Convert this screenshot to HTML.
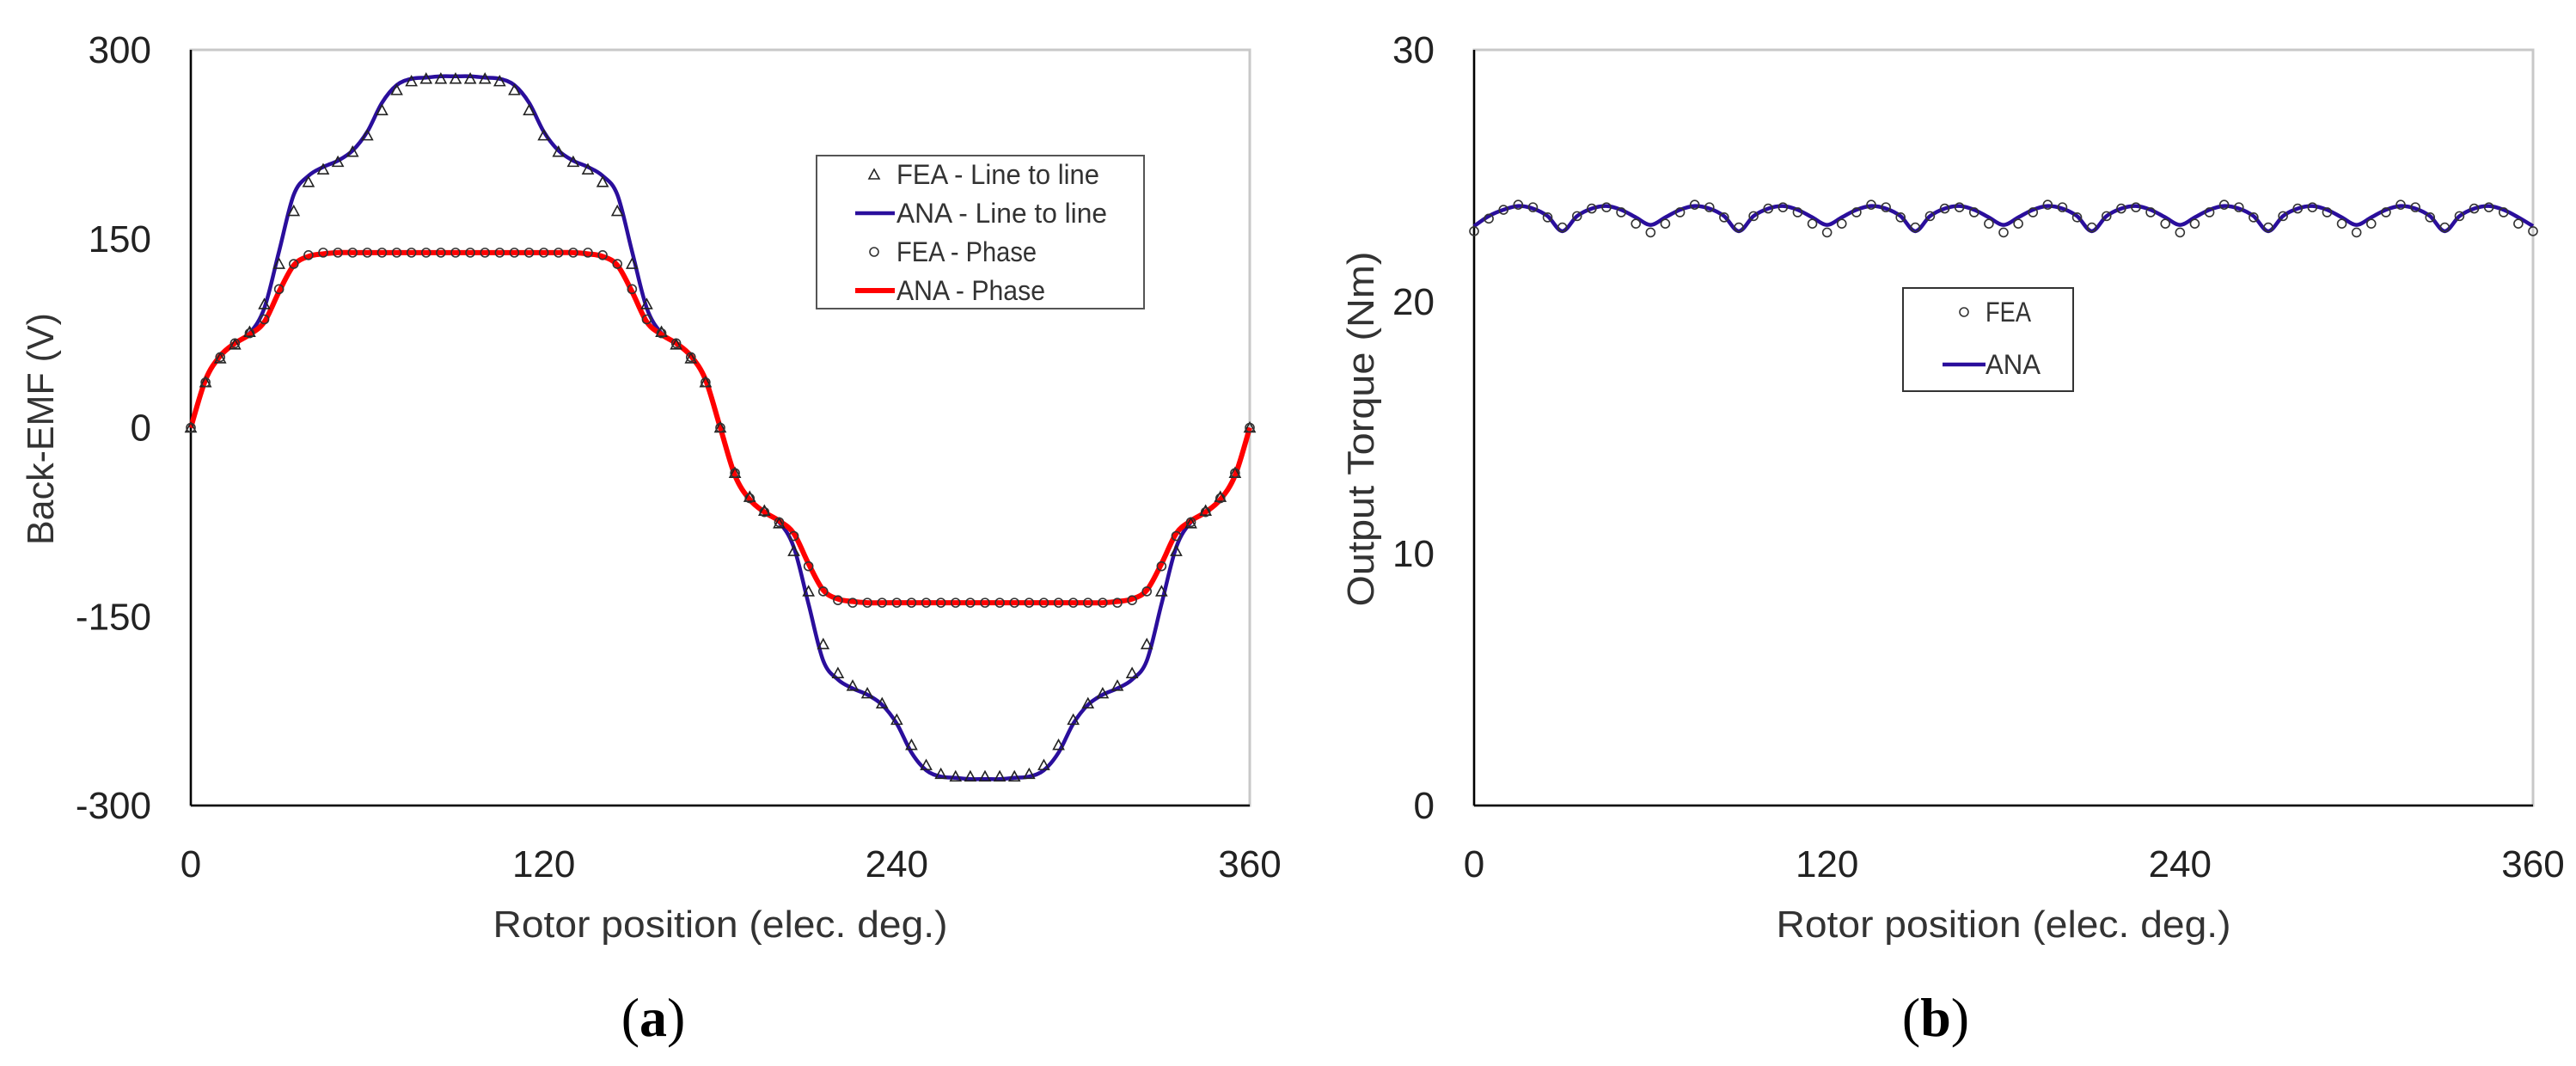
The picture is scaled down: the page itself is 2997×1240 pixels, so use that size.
<!DOCTYPE html>
<html><head><meta charset="utf-8"><style>
html,body{margin:0;padding:0;background:#fff;}
svg{display:block;font-family:"Liberation Sans",sans-serif;}
</style></head><body>
<svg id="fig" width="2997" height="1240" viewBox="0 0 2997 1240" xmlns="http://www.w3.org/2000/svg"></svg>
<script>
const xDeg = [0,5,10,15,20,25,30,35,40,45,50,55,60,65,70,75,80,85,90,95,100,105,110,115,120,125,130,135,140,145,150,155,160,165,170,175,180,185,190,195,200,205,210,215,220,225,230,235,240,245,250,255,260,265,270,275,280,285,290,295,300,305,310,315,320,325,330,335,340,345,350,355,360];
const phaseANA = [0,38,57,67,74,84,108,129,136,138,139,139,139,139,139,139,139,139,139,139,139,139,139,139,139,139,139,138,136,129,108,84,74,67,57,38,0,-38,-57,-67,-74,-84,-108,-129,-136,-138,-139,-139,-139,-139,-139,-139,-139,-139,-139,-139,-139,-139,-139,-139,-139,-139,-139,-138,-136,-129,-108,-84,-74,-67,-57,-38,0];
const phaseFEA = [0,36,56,67,75,86,110,130,137,139,139,139,139,139,139,139,139,139,139,139,139,139,139,139,139,139,139,139,137,130,110,86,75,67,56,36,0,-36,-56,-67,-75,-86,-110,-130,-137,-139,-139,-139,-139,-139,-139,-139,-139,-139,-139,-139,-139,-139,-139,-139,-139,-139,-139,-139,-137,-130,-110,-86,-75,-67,-56,-36,0];
const llANA = [0,38,57,67,75,95,140,185,200,207,212,220,235,258,272,277,278,279,279,279,278,277,272,258,235,220,212,207,200,185,140,95,75,67,57,38,0,-38,-57,-67,-75,-95,-140,-185,-200,-207,-212,-220,-235,-258,-272,-277,-278,-279,-279,-279,-278,-277,-272,-258,-235,-220,-212,-207,-200,-185,-140,-95,-75,-67,-57,-38,0];
const llFEA = [0,36,55,66,76,98,130,172,195,205,211,219,232,252,268,275,277,277,277,277,277,275,268,252,232,219,211,205,195,172,130,98,76,66,55,36,0,-36,-55,-66,-76,-98,-130,-172,-195,-205,-211,-219,-232,-252,-268,-275,-277,-277,-277,-277,-277,-275,-268,-252,-232,-219,-211,-205,-195,-172,-130,-98,-76,-66,-55,-36,0];
const torqueANA = [23.0,23.4,23.65,23.8,23.7,23.4,22.8,23.4,23.7,23.8,23.65,23.35,23.05,23.35,23.65,23.8,23.7,23.4,22.8,23.4,23.7,23.8,23.65,23.35,23.05,23.35,23.65,23.8,23.7,23.4,22.8,23.4,23.7,23.8,23.65,23.35,23.05,23.35,23.65,23.8,23.7,23.4,22.8,23.4,23.7,23.8,23.65,23.35,23.05,23.35,23.65,23.8,23.7,23.4,22.8,23.4,23.7,23.8,23.65,23.35,23.05,23.35,23.65,23.8,23.7,23.4,22.8,23.4,23.7,23.8,23.65,23.35,23.0];
const torqueFEA = [22.8,23.3,23.65,23.85,23.75,23.35,22.95,23.4,23.7,23.75,23.55,23.1,22.75,23.1,23.55,23.85,23.75,23.35,22.95,23.4,23.7,23.75,23.55,23.1,22.75,23.1,23.55,23.85,23.75,23.35,22.95,23.4,23.7,23.75,23.55,23.1,22.75,23.1,23.55,23.85,23.75,23.35,22.95,23.4,23.7,23.75,23.55,23.1,22.75,23.1,23.55,23.85,23.75,23.35,22.95,23.4,23.7,23.75,23.55,23.1,22.75,23.1,23.55,23.85,23.75,23.35,22.95,23.4,23.7,23.75,23.55,23.1,22.8];
const xTicks = [0,120,240,360];
const emfTicks = [300,150,0,-150,-300];
const torqueTicks = [0,10,20,30];

const NS = "http://www.w3.org/2000/svg";
const svg = document.getElementById('fig');
function mk(tag, attrs, parent){const e=document.createElementNS(NS,tag);for(const k in attrs)e.setAttribute(k,attrs[k]);(parent||svg).appendChild(e);return e;}
function smooth(pts){let d=`M${pts[0][0]},${pts[0][1]}`;for(let i=0;i<pts.length-1;i++){const p0=pts[Math.max(i-1,0)],p1=pts[i],p2=pts[i+1],p3=pts[Math.min(i+2,pts.length-1)];const c1x=p1[0]+(p2[0]-p0[0])/6,c1y=p1[1]+(p2[1]-p0[1])/6,c2x=p2[0]-(p3[0]-p1[0])/6,c2y=p2[1]-(p3[1]-p1[1])/6;d+=` C${c1x},${c1y} ${c2x},${c2y} ${p2[0]},${p2[1]}`;}return d;}

function panel(cfg){
  const g=mk('g',{});
  
  
  const L=cfg.left,R=cfg.left+1232,T=58,B=937;
  const sx=v=>L+(v-0)/360*(R-L);
  const sy=v=>B-(v-cfg.ymin)/(cfg.ymax-cfg.ymin)*(B-T);
  const frame=mk('rect',{x:L,y:T,width:R-L,height:B-T,fill:'none',stroke:'#c8c8c8','stroke-width':3},g);
  
  
  const ya=mk('line',{x1:L,y1:T,x2:L,y2:B,stroke:'#000','stroke-width':2.5},g);
  
  
  const xa=mk('line',{x1:L,y1:B,x2:R,y2:B,stroke:'#000','stroke-width':2.5},g);
  
  
  cfg.yticks.forEach(v=>{const t=mk('text',{x:L-46,y:sy(v)+15,'text-anchor':'end','font-size':44,fill:'#222'},g);t.textContent=v;
    
    });
  xTicks.forEach(v=>{const t=mk('text',{x:sx(v),y:1020,'text-anchor':'middle','font-size':44,fill:'#222'},g);t.textContent=v;
    
    });
  const xt=mk('text',{x:(L+R)/2,y:1090,'text-anchor':'middle','font-size':44,fill:'#333',textLength:529,lengthAdjust:'spacingAndGlyphs'},g);
  xt.textContent='Rotor position (elec. deg.)';
  
  
  const yt=mk('text',{x:0,y:0,'text-anchor':'middle','font-size':44,fill:'#333',textLength:cfg.ytLen,lengthAdjust:'spacingAndGlyphs',transform:`translate(${cfg.ytX},499) rotate(-90)`},g);
  yt.textContent=cfg.ytitle;
  
  
  const cap=mk('text',{x:cfg.capX,y:1205,'text-anchor':'middle','font-size':64,'font-family':'Liberation Serif, serif',fill:'#000'},g);
  cap.innerHTML='(<tspan font-weight="bold">'+cfg.cap+'</tspan>)';
  
  
  return {g,sx,sy};
}

// Panel (a)
const A=panel({name:'back-emf-chart',left:222,ymin:-300,ymax:300,yticks:emfTicks,ytitle:'Back-EMF (V)',ytLen:270,ytX:62,capX:760,cap:'a'});
const llLine=mk('path',{d:smooth(xDeg.map((x,i)=>[A.sx(x),A.sy(llANA[i])])),fill:'none',stroke:'#2a0e9c','stroke-width':4.5},A.g);


const phLine=mk('path',{d:smooth(xDeg.map((x,i)=>[A.sx(x),A.sy(phaseANA[i])])),fill:'none',stroke:'#ff0000','stroke-width':6},A.g);


xDeg.forEach((x,i)=>{const cx=A.sx(x),cy=A.sy(llFEA[i]);
  const p=mk('polygon',{points:`${cx},${cy-6} ${cx-6},${cy+5} ${cx+6},${cy+5}`,fill:'none',stroke:'#222','stroke-width':1.6},A.g);
  
  
  const c=mk('circle',{cx:cx,cy:A.sy(phaseFEA[i]),r:5,fill:'none',stroke:'#333','stroke-width':1.6},A.g);
  
  });
// legend a
const lgA=mk('g',{});


mk('rect',{x:950,y:181,width:381,height:178,fill:'#fff',stroke:'#555','stroke-width':2},lgA);
const legA=[['tri','FEA - Line to line',203,236],['line#2a0e9c','ANA - Line to line',248,245],['circ','FEA - Phase',293,163],['line#ff0000','ANA - Phase',338,173]];
legA.forEach(e=>{
  if(e[0]==='tri') mk('polygon',{points:`1017,${e[2]-6} 1011,${e[2]+5} 1023,${e[2]+5}`,fill:'none',stroke:'#222','stroke-width':1.6},lgA);
  else if(e[0]==='circ') mk('circle',{cx:1017,cy:e[2],r:5,fill:'none',stroke:'#333','stroke-width':1.6},lgA);
  else mk('line',{x1:995,y1:e[2],x2:1041,y2:e[2],stroke:e[0].slice(4),'stroke-width':e[0].includes('ff0000')?6:4.5},lgA);
  const t=mk('text',{x:1043,y:e[2]+11,'font-size':32,fill:'#333',textLength:e[3],lengthAdjust:'spacingAndGlyphs'},lgA);t.textContent=e[1];
  
  });

// Panel (b)
const Bp=panel({name:'torque-chart',left:1715,ymin:0,ymax:30,yticks:torqueTicks,ytitle:'Output Torque (Nm)',ytLen:413,ytX:1598,capX:2252,cap:'b'});
const tLine=mk('path',{d:smooth(xDeg.map((x,i)=>[Bp.sx(x),Bp.sy(torqueANA[i])])),fill:'none',stroke:'#2a0e9c','stroke-width':4.5},Bp.g);


xDeg.forEach((x,i)=>{const c=mk('circle',{cx:Bp.sx(x),cy:Bp.sy(torqueFEA[i]),r:5,fill:'none',stroke:'#333','stroke-width':1.6},Bp.g);
  
  });
const lgB=mk('g',{});


mk('rect',{x:2214,y:335,width:198,height:120,fill:'#fff',stroke:'#333','stroke-width':2},lgB);
mk('circle',{cx:2285,cy:363,r:5,fill:'none',stroke:'#333','stroke-width':1.6},lgB);
mk('line',{x1:2260,y1:424,x2:2310,y2:424,stroke:'#2a0e9c','stroke-width':4.5},lgB);
const f1=mk('text',{x:2310,y:374,'font-size':32,fill:'#333',textLength:53,lengthAdjust:'spacingAndGlyphs'},lgB);f1.textContent='FEA';


const f2=mk('text',{x:2310,y:435,'font-size':32,fill:'#333',textLength:64,lengthAdjust:'spacingAndGlyphs'},lgB);f2.textContent='ANA';


</script>
</body></html>
